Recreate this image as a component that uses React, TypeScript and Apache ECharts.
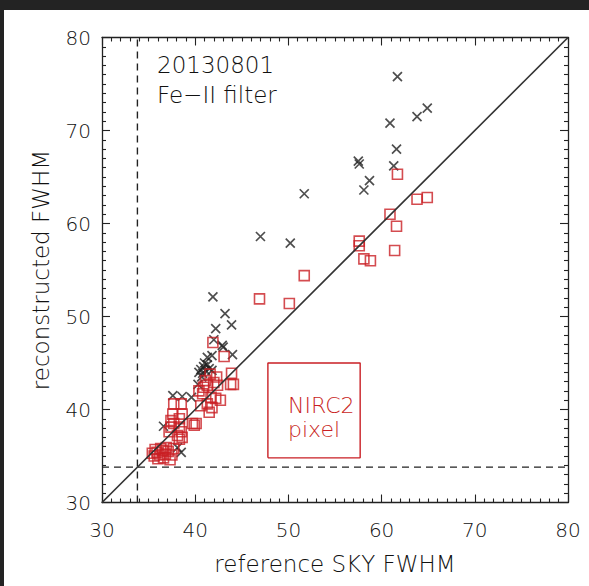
import React, { useEffect, useRef } from "react";
import * as echarts from "echarts";

const xTicks = [30, 40, 50, 60, 70, 80];
const dateLabel = "20130801";
const filterLabel = "Fe\u2212II filter";
const boxLabel = ["NIRC2", "pixel"];
const xTitle = "reference SKY FWHM";
const yTitle = "reconstructed FWHM";

const reconPoints: number[][] = [
  [61.7, 75.8], [64.9, 72.4], [63.8, 71.5], [60.9, 70.8], [61.6, 68.0], [61.3, 66.2],
  [57.5, 66.7], [57.6, 66.4], [58.7, 64.6], [58.1, 63.6], [51.7, 63.2], [47.0, 58.6],
  [50.2, 57.9],
  [41.9, 52.1], [43.2, 50.3], [43.9, 49.1], [42.2, 48.7], [42.0, 47.5], [43.0, 46.7],
  [44.0, 45.9], [41.3, 45.6], [41.8, 45.8], [42.9, 46.9],
  [40.6, 44.3], [40.9, 44.6], [41.1, 44.2], [41.3, 44.8], [40.8, 43.9], [41.5, 44.4],
  [41.0, 45.0], [40.4, 44.0], [41.8, 44.2], [40.7, 43.5], [40.3, 42.7],
  [37.6, 41.5], [38.6, 41.4], [39.6, 41.3], [36.6, 38.2], [38.1, 35.9], [38.5, 35.4]
];

const nircPoints: number[][] = [
  [61.7, 65.3], [63.8, 62.6], [64.9, 62.8], [60.9, 61.0], [61.6, 59.7], [57.6, 58.1],
  [57.6, 57.6], [58.1, 56.2], [58.8, 56.0], [61.4, 57.1], [51.7, 54.4], [46.9, 51.9],
  [50.1, 51.4],
  [41.9, 47.2], [43.1, 45.7], [43.9, 43.9], [44.1, 42.7],
  [41.3, 42.6], [42.4, 42.6], [43.8, 42.7], [40.8, 41.7], [41.7, 41.3], [42.2, 41.2],
  [42.7, 41.0], [41.1, 43.1], [42.0, 42.9], [40.4, 42.0], [40.6, 40.4], [41.3, 40.6],
  [41.8, 40.2], [41.5, 39.7], [42.3, 43.5], [41.6, 43.8], [40.9, 42.4],
  [38.5, 40.6], [37.6, 39.5], [38.6, 39.5], [37.7, 40.6], [37.7, 38.5], [37.4, 38.1],
  [38.3, 38.1], [39.7, 38.5], [40.1, 38.5], [38.1, 37.2], [38.6, 37.0], [37.4, 38.8],
  [38.3, 39.0], [37.2, 37.6], [38.5, 37.6], [38.3, 36.8], [39.9, 38.3],
  [35.6, 35.0], [35.9, 35.4], [36.2, 35.1], [36.5, 35.6], [36.8, 35.2], [37.1, 35.5],
  [35.7, 35.7], [36.3, 35.8], [36.9, 35.9], [37.5, 35.1], [36.0, 34.7], [36.6, 34.8],
  [37.3, 34.6], [37.7, 35.8], [35.4, 35.3]
];

const identityLine: number[][] = [[30, 30], [80, 80]];
const cutoff = 33.8;
const pixelBox: number[][] = [[47.8, 34.8], [57.7, 34.8], [57.7, 45.0], [47.8, 45.0], [47.8, 34.8]];

const RED = "#c91f24";
const INK = "#222222";
const TEXT = "#111111";
const FONT = "DejaVu Sans";

export default function App() {
  const ref = useRef<HTMLDivElement>(null);
  useEffect(() => {
    if (!ref.current) return;
    const chart = echarts.init(ref.current, undefined, { renderer: "svg" });
    const axisCommon = {
      type: "value" as const,
      min: xTicks[0],
      max: xTicks[xTicks.length - 1],
      interval: 10,
      splitLine: { show: false },
      axisLine: { show: true, lineStyle: { color: INK, width: 1.3 } },
      axisTick: { show: true, inside: true, length: 8, lineStyle: { color: INK, width: 1.1 } },
      minorTick: { show: true, splitNumber: 10, length: 4, lineStyle: { color: INK, width: 1.1 } },
    };
    const labelStyle = { color: TEXT, fontFamily: FONT, fontSize: 20, fontWeight: 300 };
    const nameStyle = { color: TEXT, fontFamily: FONT, fontSize: 23, fontWeight: 300 };
    chart.setOption({
      animation: false,
      backgroundColor: "#ffffff",
      grid: { left: 98, top: 27.5, right: 21, bottom: 83.5, show: false },
      xAxis: [
        {
          ...axisCommon,
          position: "bottom",
          axisLabel: { ...labelStyle, margin: 17 },
          name: xTitle,
          nameLocation: "middle",
          nameGap: 50,
          nameTextStyle: nameStyle,
        },
        { ...axisCommon, position: "top", axisLabel: { show: false } },
      ],
      yAxis: [
        {
          ...axisCommon,
          position: "left",
          axisLabel: { ...labelStyle, margin: 11 },
          name: yTitle,
          nameLocation: "middle",
          nameGap: 50,
          nameTextStyle: nameStyle,
        },
        { ...axisCommon, position: "right", axisLabel: { show: false } },
      ],
      graphic: [
        { type: "text", left: 153, top: 43, style: { text: dateLabel, fill: TEXT, font: `300 23px "${FONT}"` } },
        { type: "text", left: 153, top: 73, style: { text: filterLabel, fill: TEXT, font: `300 23px "${FONT}"` } },
        { type: "text", left: 284, top: 384, style: { text: boxLabel[0], fill: RED, font: `300 22px "${FONT}"` } },
        { type: "text", left: 284, top: 408, style: { text: boxLabel[1], fill: RED, font: `300 22px "${FONT}"` } },
      ],
      series: [
        {
          type: "line",
          data: [[cutoff, 30], [cutoff, 80]],
          symbol: "none",
          lineStyle: { color: INK, width: 1.4, type: [7, 5] },
          silent: true,
        },
        {
          type: "line",
          data: [[30, cutoff], [80, cutoff]],
          symbol: "none",
          lineStyle: { color: INK, width: 1.4, type: [7, 5] },
          silent: true,
        },
        {
          type: "line",
          data: pixelBox,
          symbol: "none",
          lineStyle: { color: RED, width: 1.4 },
          silent: true,
        },
        {
          type: "scatter",
          data: reconPoints,
          symbol: "path://M0,0L10,10M10,0L0,10",
          symbolSize: 9,
          itemStyle: { color: "none", borderColor: INK, borderWidth: 1.7 },
        },
        {
          type: "scatter",
          data: nircPoints,
          symbol: "rect",
          symbolSize: 10,
          itemStyle: { color: "rgba(0,0,0,0)", borderColor: RED, borderWidth: 1.6 },
        },
        {
          type: "line",
          data: identityLine,
          symbol: "none",
          z: 5,
          lineStyle: { color: "#333333", width: 1.7 },
          silent: true,
        },
      ],
    });
    return () => chart.dispose();
  }, []);
  return (
    <div style={{ position: "absolute", left: 0, top: 0, width: 589, height: 586, background: "#232323" }}>
      <div ref={ref} style={{ position: "absolute", left: 4, top: 10, width: 585, height: 576 }} />
    </div>
  );
}
